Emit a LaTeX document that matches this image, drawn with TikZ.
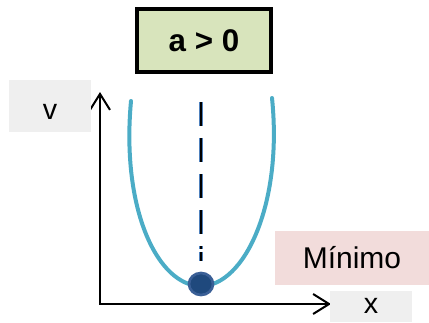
\documentclass[tikz,border=0pt]{standalone}
\usepackage{fontspec}
\setmainfont{Liberation Sans}
\usetikzlibrary{positioning, arrows.meta, shapes.geometric}
\definecolor{boxgreen}{RGB}{216,228,188}
\definecolor{boxgray}{RGB}{239,239,239}
\definecolor{boxpink}{RGB}{242,220,219}
\definecolor{curveteal}{RGB}{75,172,198}
\definecolor{dotblue}{RGB}{31,73,125}
\definecolor{dotrim}{RGB}{58,95,150}
\definecolor{dashblue}{RGB}{79,129,189}
\tikzset{
    condbox/.style={rectangle, draw=black, fill=boxgreen, line width=3pt, minimum width=100pt, minimum height=47pt, inner sep=0pt, text height=17pt, text depth=0pt, font=\fontsize{23.5}{28}\selectfont\bfseries},
    axislbl/.style={rectangle, fill=boxgray, inner sep=0pt, minimum width=61.5pt, font=\fontsize{21.5}{25}\selectfont},
    minlbl/.style={rectangle, fill=boxpink, inner sep=0pt, minimum width=116pt, minimum height=40.5pt, text height=16.2pt, text depth=0pt, font=\fontsize{22.5}{27}\selectfont},
    axisarr/.style={{Straight Barb[length=12pt, width=15pt]}-{Straight Barb[length=12pt, width=15pt]}, line width=1.5pt, line join=miter},
    parab/.style={curveteal, line width=3pt, line cap=round},
    symaxis/.style={draw=dashblue, double=black, double distance=0.8pt, line width=1.2pt, dash pattern=on 18pt off 9pt on 18pt off 9pt on 18pt off 9pt on 18pt off 9pt on 2.5pt off 2pt on 7pt off 20pt},
    vertexdot/.style={ellipse, fill=dotblue, draw=dotrim, line width=2pt, minimum width=18pt, minimum height=16.5pt, inner sep=0pt}
}

\begin{document}
\begin{tikzpicture}[x=0.75pt, y=-0.75pt]
    \useasboundingbox (0,0) rectangle (429,322);

    % Condition box
    \node[condbox] (cond) at (204,40.5) {a > 0};

    % Axes
    \coordinate (O) at (100,304);
    \coordinate (ytip) at (100,92);
    \coordinate (xtip) at (331,304);
    \draw[axisarr] (ytip) -- (O) -- (xtip);

    % Axis labels
    \node[axislbl, minimum height=39pt, text height=19.5pt, text depth=0pt] (vlbl) at (50,106) {v};
    \node[axislbl, minimum height=23.25pt, text height=11.2pt, text depth=0pt] (xlbl) at (371,306.5) {x};

    % Parabola
    \coordinate (ltop) at (131,101);
    \coordinate (rtop) at (272,98);
    \coordinate (bot) at (201,286);
    \draw[parab] (ltop) .. controls (121,210) and (158,286) .. (bot)
                 .. controls (244,286) and (283,205) .. (rtop);

    % Axis of symmetry and minimum
    \coordinate (axtop) at (201,102);
    \coordinate (axbot) at (201,263);
    \draw[symaxis] (axtop) -- (axbot);
    \node[vertexdot] (vtx) at (201,284) {};

    \node[minlbl] (minimo) at (352,258) {Mínimo};
\end{tikzpicture}
\end{document}
